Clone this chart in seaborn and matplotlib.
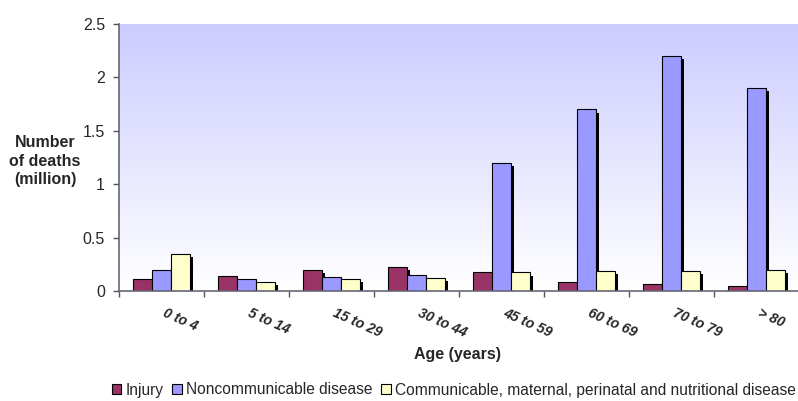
import numpy as np
import pandas as pd
import matplotlib
matplotlib.use("Agg")
import matplotlib.pyplot as plt
import matplotlib.patheffects as pe
import matplotlib.transforms as mtransforms
from matplotlib.patches import Patch
import seaborn as sns

# ---- data ----
age_groups = ["0 to 4", "5 to 14", "15 to 29", "30 to 44", "45 to 59", "60 to 69", "70 to 79", "> 80"]
injury = [0.11, 0.14, 0.20, 0.225, 0.175, 0.08, 0.07, 0.05]
noncommunicable = [0.20, 0.11, 0.135, 0.15, 1.20, 1.70, 2.20, 1.90]
communicable = [0.35, 0.085, 0.11, 0.12, 0.175, 0.19, 0.19, 0.20]
series_names = ["Injury", "Noncommunicable disease",
                "Communicable, maternal, perinatal and nutritional disease"]
series_colors = ["#993366", "#9999FF", "#FFFFCC"]
y_ticks = [0, 0.5, 1, 1.5, 2, 2.5]
y_tick_labels = ["0", "0.5", "1", "1.5", "2", "2.5"]

df = pd.DataFrame({
    "age": age_groups * 3,
    "value": injury + noncommunicable + communicable,
    "series": [series_names[0]] * 8 + [series_names[1]] * 8 + [series_names[2]] * 8,
})

sns.set_theme(style="white")
plt.rcParams["font.family"] = ["Liberation Sans", "DejaVu Sans"]

FS = 11.5
fig = plt.figure(figsize=(7.98, 4.01), dpi=100)
ax = fig.add_axes([119 / 798, 110 / 401, 680 / 798, 267 / 401])

# gradient background
grad = np.linspace(0, 1, 256).reshape(-1, 1)
top = np.array([204, 204, 255]) / 255.0
bottom = np.array([255, 255, 255]) / 255.0
img = (1 - grad)[..., None] * top + grad[..., None] * bottom
img = np.repeat(img, 2, axis=1)
ax.imshow(img, extent=[0, 1, 0, 1], transform=ax.transAxes, aspect="auto", zorder=0)

sns.barplot(data=df, x="age", y="value", hue="series", order=age_groups,
            hue_order=series_names, palette=series_colors, width=0.67,
            edgecolor="black", linewidth=0.8, saturation=1, ax=ax, legend=False,
            zorder=3)

for p in ax.patches:
    p.set_path_effects([pe.SimplePatchShadow(offset=(2.3, -2.3), shadow_rgbFace="black", alpha=1.0),
                        pe.Normal()])

ax.set_xlim(-0.5, len(age_groups) - 0.5)
ax.set_ylim(0, 2.5)
ax.set_yticks(y_ticks)
ax.set_yticklabels(y_tick_labels, fontsize=11.5)
ax.set_xlabel("")
ax.set_ylabel("")

# x category labels (rotated), tick marks at boundaries
ax.set_xticks(range(len(age_groups)))
ax.set_xticklabels([""] * len(age_groups))
base = mtransforms.blended_transform_factory(ax.transData, ax.transAxes)
offset = mtransforms.ScaledTranslation(5 / 100, -15 / 100, fig.dpi_scale_trans)
for i, lab in enumerate(age_groups):
    ax.text(i, 0, lab, transform=base + offset, fontsize=10, fontweight="bold",
            fontstyle="italic", rotation=-24, ha="left", va="top", rotation_mode="anchor",
            clip_on=False)
ax.set_xticks(np.arange(-0.5, len(age_groups) + 0.5, 1), minor=True)
ax.tick_params(axis="x", which="major", length=0, pad=0)
ax.tick_params(axis="x", which="minor", length=4, width=1, color="#555555", direction="out", bottom=True)
ax.tick_params(axis="y", length=4, width=1, color="#555555", direction="out", left=True, pad=6)

for s in ["top", "right"]:
    ax.spines[s].set_visible(False)
for s in ["left", "bottom"]:
    ax.spines[s].set_color("#666677")
    ax.spines[s].set_linewidth(1.2)
    ax.spines[s].set_zorder(5)

fig.text(45 / 798, 1 - 161 / 401, "Number\nof deaths\n(million)", ha="center", va="center",
         fontsize=FS, fontweight="bold", linespacing=1.28)
fig.text(458 / 798, 1 - 354 / 401, "Age (years)", ha="center", va="center",
         fontsize=FS, fontweight="bold")

handles = [Patch(facecolor=c, edgecolor="black", linewidth=0.8, label=n)
           for c, n in zip(series_colors, series_names)]
fig.legend(handles=handles, loc="center", bbox_to_anchor=(454 / 798, 1 - 390 / 401), ncol=3,
           frameon=False, fontsize=11.2, handlelength=0.6, handleheight=0.6,
           handletextpad=0.3, columnspacing=0.55, borderaxespad=0)

fig.savefig("out.png", dpi=100)
